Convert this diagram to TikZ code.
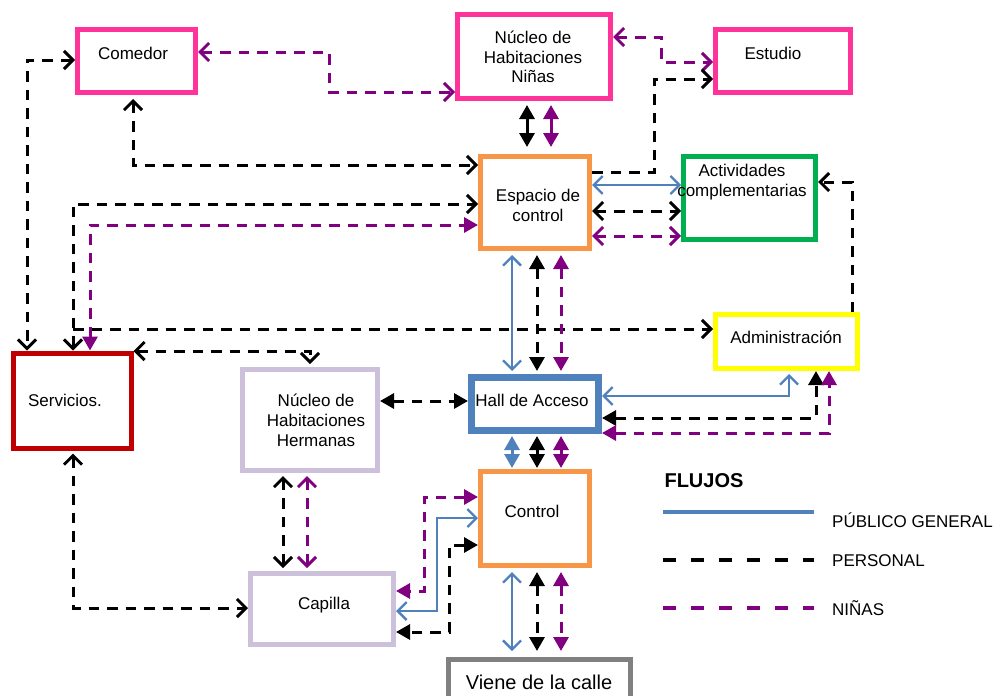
\documentclass[tikz,border=0pt]{standalone}
\usepackage{fontspec}
\setmainfont{Liberation Sans}
\usetikzlibrary{arrows.meta}
\definecolor{pinkc}{HTML}{FF3399}
\definecolor{orangec}{HTML}{F79646}
\definecolor{greenc}{HTML}{00B050}
\definecolor{yellowc}{HTML}{FFFF00}
\definecolor{redc}{HTML}{C00000}
\definecolor{lavc}{HTML}{CCC0DA}
\definecolor{bluec}{HTML}{4F81BD}
\definecolor{purpc}{HTML}{800080}
\definecolor{greyc}{HTML}{808080}
\begin{document}
\begin{tikzpicture}[x=1pt,y=-1pt,
  bx/.style={draw, rectangle, inner sep=0pt, line width=5pt, fill=white},
  txt/.style={inner sep=0pt, align=center, font=\fontsize{17}{20}\selectfont},
  pub/.style={draw=bluec, line width=2.3pt},
  per/.style={draw=black, line width=3pt, dash pattern=on 10.5pt off 8pt},
  pnin/.style={draw=purpc, line width=3pt, dash pattern=on 10.5pt off 8pt},
  psol/.style={line width=3pt},
  ob/.style={{Straight Barb[length=9pt,width=18pt]}-{Straight Barb[length=9pt,width=18pt]}},
  oe/.style={-{Straight Barb[length=9pt,width=18pt]}},
  fb/.style={{Triangle[length=14pt,width=15pt]}-{Triangle[length=14pt,width=15pt]}},
]
\useasboundingbox (0,0) rectangle (997,696);

% boxes
\node[bx, draw=pinkc, minimum width=118pt, minimum height=63pt] (com) at (136.5,61) {};
\node[bx, draw=pinkc, minimum width=153pt, minimum height=84pt] (nin) at (534,56.5) {};
\node[bx, draw=pinkc, minimum width=135pt, minimum height=63pt] (est) at (783,61) {};
\node[bx, draw=orangec, minimum width=109pt, minimum height=92pt] (esp) at (535,202.5) {};
\node[bx, draw=greenc, minimum width=132pt, minimum height=83pt] (act) at (749.5,198) {};
\node[bx, draw=yellowc, minimum width=142pt, minimum height=54pt] (adm) at (786.5,341.5) {};
\node[bx, draw=redc, minimum width=118pt, minimum height=95pt] (ser) at (72,400.5) {};
\node[bx, draw=lavc, minimum width=135pt, minimum height=101pt] (her) at (310,420) {};
\node[bx, draw=bluec, line width=7pt, minimum width=127pt, minimum height=53pt] (hall) at (535,404) {};
\node[bx, draw=orangec, minimum width=109pt, minimum height=94pt] (ctl) at (535,518.5) {};
\node[bx, draw=lavc, minimum width=143pt, minimum height=71pt] (cap) at (322,609) {};
\node[bx, draw=greyc, minimum width=182pt, minimum height=56pt] (vie) at (539.5,687.5) {};

% texts
\node[txt] (comt) at (133,53) {Comedor};
\node[txt, font=\fontsize{17}{19.5}\selectfont] (nint) at (533,57) {Núcleo de\\Habitaciones\\Niñas};
\node[txt] (estt) at (773,53) {Estudio};
\node[txt] (espt) at (538,205) {Espacio de\\control};
\node[txt] (actt) at (742,182) {Actividades\\complementarias};
\node[txt] (admt) at (786,337) {Administración};
\node[txt] (sert) at (65,400) {Servicios.};
\node[txt] (hert) at (316,420) {Núcleo de\\Habitaciones\\Hermanas};
\node[txt] (hallt) at (532,400) {Hall de Acceso};
\node[txt] (ctlt) at (532,511) {Control};
\node[txt] (capt) at (324,605) {Capilla};
\node[txt, font=\fontsize{20}{24}\selectfont] (viet) at (539,682) {Viene de la calle};

% connectors
% Comedor - Ninas
\draw[pnin, ob] (com.east |- 0,52) -- (329,52) -- (329,92) -- (nin.west |- 0,92);
% Ninas - Estudio
\draw[pnin, ob] (nin.east |- 0,37) -- (661,37) -- (661,62) -- (est.west |- 0,62);
% Espacio -> Estudio
\draw[per, oe] (esp.east |- 0,172) -- (654,172) -- (654,79) -- (est.west |- 0,79);
% Ninas - Espacio short
\draw[psol, draw=black, fb, shorten <=4pt, shorten >=7pt] (527,0 |- nin.south) -- (527,0 |- esp.north);
\draw[psol, draw=purpc, fb, shorten <=4pt, shorten >=7pt] (551,0 |- nin.south) -- (551,0 |- esp.north);
% Comedor - Espacio
\draw[per, ob, shorten <=4pt] (133,0 |- com.south) -- (133,165) -- (esp.west |- 0,165);
% Comedor - Servicios
\draw[per, ob] (com.west |- 0,60) -- (27,60) -- (27,0 |- ser.north);
% Servicios - Espacio
\draw[per, ob] (73,0 |- ser.north) -- (73,204) -- (esp.west |- 0,204);
% Servicios -> Administracion
\coordinate (brA) at (73,329);
\draw[per, oe] (brA) -- (adm.west |- brA);
% Servicios - Espacio (ninas)
\draw[pnin, fb] (90,0 |- ser.north) -- (90,225) -- (esp.west |- 0,225);
% Servicios - Hermanas
\draw[per, ob, shorten >=3pt] (ser.east |- 0,351) -- (310,351) -- (her.north);
% Servicios - Capilla
\draw[per, ob, shorten <=3pt] (73,0 |- ser.south) -- (73,608) -- (cap.west |- 0,608);
% Hermanas - Hall
\draw[per, fb] (her.east |- 0,401) -- (hall.west |- 0,401);
% Hermanas - Capilla
\draw[per, ob, shorten <=3pt, shorten >=3pt] (283,0 |- her.south) -- (283,0 |- cap.north);
\draw[pnin, ob, shorten <=3pt, shorten >=3pt] (307,0 |- her.south) -- (307,0 |- cap.north);
% Espacio - Actividades
\draw[pub, ob] (esp.east |- 0,185) -- (act.west |- 0,185);
\draw[per, ob] (esp.east |- 0,211) -- (act.west |- 0,211);
\draw[pnin, ob] (esp.east |- 0,236) -- (act.west |- 0,236);
% Administracion -> Actividades
\draw[per, oe] (852,0 |- adm.north) -- (852,182) -- (act.east |- 0,182);
% Espacio - Hall
\draw[pub, ob, shorten <=4pt, shorten >=3pt] (512,0 |- esp.south) -- (512,0 |- hall.north);
\draw[per, fb, shorten <=4pt, shorten >=3pt] (537,0 |- esp.south) -- (537,0 |- hall.north);
\draw[pnin, fb, shorten <=4pt, shorten >=3pt] (561,0 |- esp.south) -- (561,0 |- hall.north);
% Hall - Administracion
\draw[pub, ob, shorten >=3pt] (hall.east |- 0,396) -- (789,396) -- (789,0 |- adm.south);
\draw[per, fb] (hall.east |- 0,418) -- (816,418) -- (816,0 |- adm.south);
\draw[pnin, fb] (hall.east |- 0,433) -- (829,433) -- (829,0 |- adm.south);
% Hall - Control
\draw[psol, draw=bluec, fb, shorten <=2pt, shorten >=1pt] (512,0 |- hall.south) -- (512,0 |- ctl.north);
\draw[psol, draw=black, fb, shorten <=2pt, shorten >=1pt] (537,0 |- hall.south) -- (537,0 |- ctl.north);
\draw[psol, draw=purpc, fb, shorten <=2pt, shorten >=1pt] (561,0 |- hall.south) -- (561,0 |- ctl.north);
% Control - Capilla
\draw[pnin, fb] (ctl.west |- 0,497) -- (424,497) -- (424,591) -- (cap.east |- 0,591);
\draw[pub, ob] (ctl.west |- 0,518) -- (437,518) -- (437,611) -- (cap.east |- 0,611);
\draw[per, fb] (ctl.west |- 0,545) -- (449,545) -- (449,632) -- (cap.east |- 0,632);
% Control - Viene
\draw[pub, ob, shorten <=4pt, shorten >=6pt] (512,0 |- ctl.south) -- (512,0 |- vie.north);
\draw[per, fb, shorten <=4pt, shorten >=6pt] (537,0 |- ctl.south) -- (537,0 |- vie.north);
\draw[pnin, fb, shorten <=4pt, shorten >=6pt] (561,0 |- ctl.south) -- (561,0 |- vie.north);

% legend
\node[inner sep=0pt, font=\fontsize{20}{24}\selectfont\bfseries] (leg) at (704,481) {FLUJOS};
\coordinate (l1a) at (663,512); \coordinate (l1b) at (814,512);
\coordinate (l2a) at (663,560); \coordinate (l2b) at (814,560);
\coordinate (l3a) at (663,608); \coordinate (l3b) at (814,608);
\draw[draw=bluec, line width=4pt] (l1a) -- (l1b);
\draw[draw=black, line width=4pt, dash pattern=on 13pt off 15pt] (l2a) -- (l2b);
\draw[draw=purpc, line width=4pt, dash pattern=on 13pt off 15pt] (l3a) -- (l3b);
\node[txt, anchor=west] (lt1) at (832,520) {PÚBLICO GENERAL};
\node[txt, anchor=west] (lt2) at (832,561) {PERSONAL};
\node[txt, anchor=west] (lt3) at (832,608) {NIÑAS};
\end{tikzpicture}
\end{document}
